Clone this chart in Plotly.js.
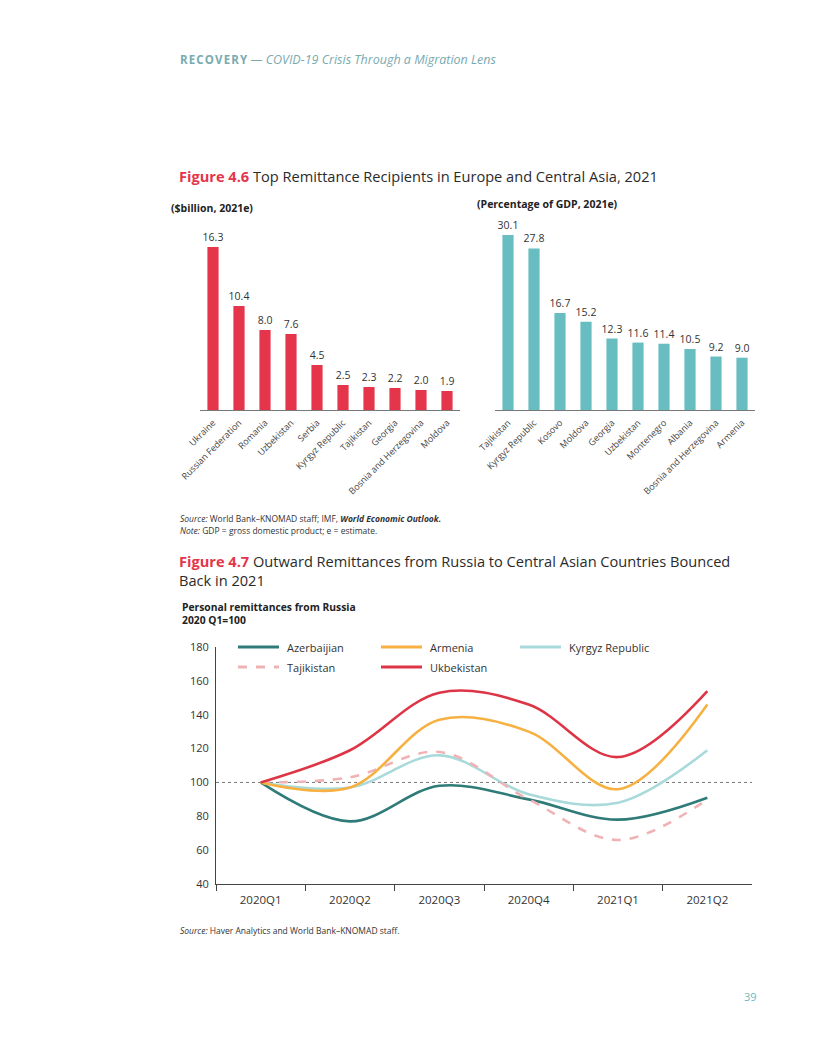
<!DOCTYPE html>
<html><head><meta charset="utf-8">
<script src="https://cdn.plot.ly/plotly-3.0.1.min.js"></script>
<style>html,body{margin:0;padding:0;background:#fff}#chart{width:816px;height:1056px}</style>
</head><body><div id="chart"></div>
<script>
const W = 816, H = 1056;

// ---- Data ----
const amountCountries = ["Ukraine","Russian Federation","Romania","Uzbekistan","Serbia","Kyrgyz Republic","Tajikistan","Georgia","Bosnia and Herzegovina","Moldova"];
const amountValues = [16.3,10.4,8.0,7.6,4.5,2.5,2.3,2.2,2.0,1.9];
const gdpCountries = ["Tajikistan","Kyrgyz Republic","Kosovo","Moldova","Georgia","Uzbekistan","Montenegro","Albania","Bosnia and Herzegovina","Armenia"];
const gdpValues = [30.1,27.8,16.7,15.2,12.3,11.6,11.4,10.5,9.2,9.0];
const quarters = ["2020Q1","2020Q2","2020Q3","2020Q4","2021Q1","2021Q2"];
const azerbaijian = [100,77,98,90,78,91];
const armenia = [100,97,137,130,96,146];
const kyrgyz = [100,97,116,93,88,119];
const tajikistan = [100,103,118,90,66,90];
const ukbekistan = [100,119,153,146,115,154];
const yTicks = [40,60,80,100,120,140,160,180];

// ---- helpers ----
const X = px => px / W;
const Y = py => 1 - py / H;
const FONT = "'Open Sans', Lato, sans-serif";
const RED = "#e4354a", TEAL = "#67bdc0";
const C_AZ = "#2f7b78", C_AR = "#f6b142", C_KY = "#a9dadb", C_TJ = "#f0b3b5", C_UZ = "#dd3546";

const barText = {size:10.5,color:"#333",family:FONT};
const traces = [
  {type:"bar", x:amountCountries, y:amountValues, xaxis:"x", yaxis:"y",
   marker:{color:RED}, text:amountValues.map(v=>v.toFixed(1)), textposition:"outside",
   textfont:barText, outsidetextfont:barText, constraintext:"none", cliponaxis:false, hoverinfo:"none", showlegend:false},
  {type:"bar", x:gdpCountries, y:gdpValues, xaxis:"x2", yaxis:"y2",
   marker:{color:TEAL}, text:gdpValues.map(v=>v.toFixed(1)), textposition:"outside",
   textfont:barText, outsidetextfont:barText, constraintext:"none", cliponaxis:false, hoverinfo:"none", showlegend:false},
  {type:"scatter", mode:"lines", name:"Azerbaijian", x:quarters, y:azerbaijian, xaxis:"x3", yaxis:"y3",
   line:{color:C_AZ,width:2.6,shape:"spline",smoothing:1}, showlegend:false},
  {type:"scatter", mode:"lines", name:"Kyrgyz Republic", x:quarters, y:kyrgyz, xaxis:"x3", yaxis:"y3",
   line:{color:C_KY,width:2.6,shape:"spline",smoothing:1}, showlegend:false},
  {type:"scatter", mode:"lines", name:"Tajikistan", x:quarters, y:tajikistan, xaxis:"x3", yaxis:"y3",
   line:{color:C_TJ,width:2.6,shape:"spline",smoothing:1,dash:"dash"}, showlegend:false},
  {type:"scatter", mode:"lines", name:"Armenia", x:quarters, y:armenia, xaxis:"x3", yaxis:"y3",
   line:{color:C_AR,width:2.6,shape:"spline",smoothing:1}, showlegend:false},
  {type:"scatter", mode:"lines", name:"Ukbekistan", x:quarters, y:ukbekistan, xaxis:"x3", yaxis:"y3",
   line:{color:C_UZ,width:2.6,shape:"spline",smoothing:1}, showlegend:false}
];

const catAxis = (domain, anchor) => ({
  domain: domain, anchor: anchor, type:"category", range:[-0.5,9.5], showline:true, linecolor:"#777", linewidth:1,
  ticks:"", tickangle:-45, ticklabelstandoff:3, tickfont:{size:9,color:"#444",family:FONT},
  showgrid:false, zeroline:false, fixedrange:true
});

const ann = [];
function addText(x, y, text, size, color, opts) {
  ann.push(Object.assign({xref:"paper", yref:"paper", x:X(x), y:Y(y), text:text, showarrow:false,
    xanchor:"left", yanchor:"middle", font:{size:size, color:color, family:FONT}}, opts||{}));
}
const hs = "\u200A";
addText(178, 59, '<b><span style="font-size:11.5px">' + "RECOVERY".split("").join(hs) + '</span></b> <i>— COVID-19 Crisis Through a Migration Lens</i>', 12.5, "#79aab0");
addText(177, 176, '<b><span style="color:' + RED + '">Figure 4.6</span></b> Top Remittance Recipients in Europe and Central Asia, 2021', 14.6, "#2b2b2b");
addText(169, 208, '<b>($billion, 2021e)</b>', 10.5, "#222");
addText(475, 204, '<b>(Percentage of GDP, 2021e)</b>', 10.5, "#222");
addText(178, 518, '<i>Source:</i> World Bank–KNOMAD staff; IMF, <b><i>World Economic Outlook.</i></b>', 8.5, "#333");
addText(178, 530, '<i>Note:</i> GDP = gross domestic product; e = estimate.', 8.5, "#333");
addText(177, 570.5, '<b><span style="color:' + RED + '">Figure 4.7</span></b> Outward Remittances from Russia to Central Asian Countries Bounced<br>Back in 2021', 14.6, "#2b2b2b", {align:"left"});
addText(180, 613.5, '<b>Personal remittances from Russia<br>2020 Q1=100</b>', 10.3, "#222", {align:"left"});
addText(178, 930, '<i>Source:</i> Haver Analytics and World Bank–KNOMAD staff.', 8.5, "#333");
addText(742, 996, '39', 11, "#6cb8c0");

// legend (manual)
const legendItems = [
  {name:"Azerbaijian", color:C_AZ, x:238, y:647, dash:"solid"},
  {name:"Armenia", color:C_AR, x:381, y:647, dash:"solid"},
  {name:"Kyrgyz Republic", color:C_KY, x:520, y:647, dash:"solid"},
  {name:"Tajikistan", color:C_TJ, x:238, y:667, dash:"dash"},
  {name:"Ukbekistan", color:C_UZ, x:381, y:667, dash:"solid"}
];
const shapes = [
  {type:"line", xref:"paper", yref:"y3", x0:X(216), x1:X(752), y0:100, y1:100,
   line:{color:"#777", width:1, dash:"dot"}, layer:"below"}
];
legendItems.forEach(it => {
  shapes.push({type:"line", xref:"paper", yref:"paper", x0:X(it.x), x1:X(it.x+41), y0:Y(it.y), y1:Y(it.y),
    line:{color:it.color, width:3, dash:it.dash}});
  addText(it.x + 47, it.y, it.name, 11, "#333");
});

const layout = {
  width: W, height: H, margin:{l:0,r:0,t:0,b:0}, paper_bgcolor:"#fff", plot_bgcolor:"rgba(0,0,0,0)",
  font:{family:FONT, color:"#333"}, showlegend:false, bargap:0.57,
  xaxis: catAxis([X(200), X(460)], "y"),
  yaxis: {domain:[Y(410), Y(230)], anchor:"x", range:[0,18], visible:false, fixedrange:true},
  xaxis2: catAxis([X(495), X(755)], "y2"),
  yaxis2: {domain:[Y(410), Y(224)], anchor:"x2", range:[0,32], visible:false, fixedrange:true},
  xaxis3: {domain:[X(216), X(752)], anchor:"y3", type:"category", range:[-0.5,5.5], showline:true, linecolor:"#444",
    linewidth:1, ticks:"outside", tickson:"boundaries", ticklen:6, tickcolor:"#444", ticklabelstandoff:5,
    tickfont:{size:11.5,color:"#333",family:FONT}, showgrid:false, zeroline:false},
  yaxis3: {domain:[Y(884), Y(647)], anchor:"x3", range:[40,180], tickvals:yTicks, showline:true, linecolor:"#444",
    linewidth:1, ticks:"", ticklabelstandoff:4, showgrid:false, zeroline:false, tickfont:{size:11,color:"#333",family:FONT}},
  annotations: ann, shapes: shapes
};

Plotly.newPlot("chart", traces, layout, {displayModeBar:false, staticPlot:true});
</script>
</body></html>
